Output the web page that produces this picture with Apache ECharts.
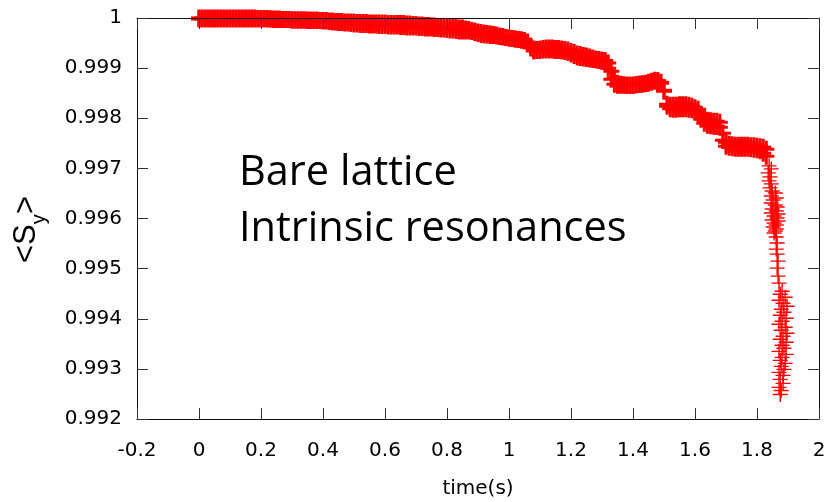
<!DOCTYPE html>
<html><head><meta charset="utf-8">
<script src="https://cdn.jsdelivr.net/npm/echarts@6/dist/echarts.min.js"></script>
<style>html,body{margin:0;padding:0;background:#fff}#c{width:830px;height:502px}</style>
</head><body><div id="c"></div>
<script>
// x tick labels / y tick labels
const xTickLabels = ['-0.2','0','0.2','0.4','0.6','0.8','1','1.2','1.4','1.6','1.8','2'];
const yTickLabels = ['0.992','0.993','0.994','0.995','0.996','0.997','0.998','0.999','1'];

// dense part of the record: sample times and the upper / lower spread of <Sy>
const bandTime = [
0,0.01,0.02,0.03,0.04,0.05,0.06,0.07,0.08,0.09,
0.10,0.11,0.12,0.13,0.14,0.15,0.16,0.17,0.18,0.19,
0.20,0.21,0.22,0.23,0.24,0.25,0.26,0.27,0.28,0.29,
0.30,0.31,0.32,0.33,0.34,0.35,0.36,0.37,0.38,0.39,
0.40,0.41,0.42,0.43,0.44,0.45,0.46,0.47,0.48,0.49,
0.50,0.51,0.52,0.53,0.54,0.55,0.56,0.57,0.58,0.59,
0.60,0.61,0.62,0.63,0.64,0.65,0.66,0.67,0.68,0.69,
0.70,0.71,0.72,0.73,0.74,0.75,0.76,0.77,0.78,0.79,
0.80,0.81,0.82,0.83,0.84,0.85,0.86,0.87,0.88,0.89,
0.90,0.91,0.92,0.93,0.94,0.95,0.96,0.97,0.98,0.99,
1.00,1.01,1.02,1.03,1.04,1.05,1.06,1.07,1.08,1.09,
1.10,1.11,1.12,1.13,1.14,1.15,1.16,1.17,1.18,1.19,
1.20,1.21,1.22,1.23,1.24,1.25,1.26,1.27,1.28,1.29,
1.30,1.31,1.32,1.33,1.34,1.35,1.36,1.37,1.38,1.39,
1.40,1.41,1.42,1.43,1.44,1.45,1.46,1.47,1.48,1.49,
1.50,1.51,1.52,1.53,1.54,1.55,1.56,1.57,1.58,1.59,
1.60,1.61,1.62,1.63,1.64,1.65,1.66,1.67,1.68,1.69,
1.70,1.71,1.72,1.73,1.74,1.75,1.76,1.77,1.78,1.79,
1.80,1.81,1.82,1.83];

const bandUpper = [
1,1,1,1,1,1,1,1,1,1,
1,1,1,1,1,1,1,1,1,0.99999,
0.99999,0.99999,0.99999,0.99998,0.99998,0.99998,0.99998,0.99997,0.99997,0.99997,
0.99996,0.99996,0.99996,0.99996,0.99996,0.99996,0.99996,0.99996,0.99996,0.99995,
0.99995,0.99995,0.99994,0.99994,0.99993,0.99993,0.99993,0.99992,0.99992,0.99992,
0.99992,0.99991,0.99991,0.99991,0.99991,0.99990,0.99990,0.99990,0.99990,0.99990,
0.99990,0.99989,0.99989,0.99989,0.99989,0.99989,0.99989,0.99988,0.99988,0.99987,
0.99987,0.99986,0.99986,0.99985,0.99985,0.99984,0.99984,0.99983,0.99982,0.99982,
0.99982,0.99981,0.99981,0.99981,0.99980,0.99980,0.99978,0.99977,0.99975,0.99974,
0.99972,0.99971,0.99970,0.99969,0.99968,0.99967,0.99966,0.99964,0.99963,0.99961,
0.99960,0.99959,0.99958,0.99957,0.99956,0.99955,0.99952,0.99944,0.99936,0.99937,
0.99938,0.99939,0.99940,0.99940,0.99940,0.99939,0.99939,0.99938,0.99937,0.99936,
0.99933,0.99931,0.99928,0.99927,0.99925,0.99924,0.99922,0.99920,0.99918,0.99917,
0.99916,0.99915,0.99910,0.99894,0.99880,0.99870,0.99868,0.99867,0.99866,0.99866,
0.99866,0.99867,0.99868,0.99869,0.99870,0.99872,0.99874,0.99876,0.99875,0.99870,
0.99856,0.99828,0.99826,0.99826,0.99826,0.99827,0.99827,0.99827,0.99826,0.99824,
0.99821,0.99818,0.99808,0.99800,0.99796,0.99795,0.99794,0.99794,0.99792,0.99770,
0.99752,0.99748,0.99747,0.99746,0.99746,0.99746,0.99746,0.99746,0.99745,0.99745,
0.99744,0.99743,0.99742,0.99738];

const bandLower = [
0.99998,0.99998,0.99998,0.99998,0.99998,0.99998,0.99998,0.99998,0.99998,0.99998,
0.99998,0.99998,0.99998,0.99998,0.99998,0.99998,0.99998,0.99998,0.99998,0.99998,
0.99998,0.99998,0.99998,0.99998,0.99997,0.99997,0.99997,0.99997,0.99997,0.99997,
0.99996,0.99996,0.99996,0.99996,0.99996,0.99995,0.99995,0.99995,0.99995,0.99995,
0.99994,0.99994,0.99993,0.99992,0.99992,0.99991,0.99991,0.99990,0.99990,0.99989,
0.99988,0.99988,0.99987,0.99987,0.99987,0.99986,0.99986,0.99986,0.99985,0.99985,
0.99985,0.99984,0.99984,0.99984,0.99984,0.99983,0.99983,0.99982,0.99982,0.99982,
0.99982,0.99981,0.99981,0.99980,0.99980,0.99980,0.99979,0.99979,0.99978,0.99978,
0.99977,0.99976,0.99976,0.99975,0.99974,0.99974,0.99974,0.99974,0.99973,0.99971,
0.99969,0.99967,0.99966,0.99966,0.99965,0.99965,0.99964,0.99963,0.99962,0.99961,
0.99960,0.99959,0.99958,0.99957,0.99956,0.99955,0.99951,0.99940,0.99934,0.99935,
0.99935,0.99936,0.99936,0.99936,0.99936,0.99935,0.99935,0.99934,0.99933,0.99931,
0.99928,0.99925,0.99922,0.99921,0.99920,0.99919,0.99918,0.99917,0.99916,0.99915,
0.99914,0.99913,0.99900,0.99878,0.99868,0.99866,0.99866,0.99866,0.99866,0.99866,
0.99866,0.99867,0.99868,0.99868,0.99869,0.99870,0.99872,0.99874,0.99875,0.99872,
0.99854,0.99824,0.99819,0.99818,0.99818,0.99819,0.99819,0.99819,0.99818,0.99817,
0.99814,0.99808,0.99798,0.99790,0.99786,0.99785,0.99784,0.99784,0.99782,0.99756,
0.99744,0.99742,0.99741,0.99740,0.99740,0.99740,0.99740,0.99740,0.99739,0.99738,
0.99737,0.99735,0.99730,0.99724];

// sparse tail of the record (final drop)
const tailTime = [
1.839,1.846,1.836,1.842,1.839,1.846,1.842,1.849,1.859,1.846,
1.862,1.852,1.846,1.859,1.865,1.849,1.862,1.846,1.868,1.855,
1.865,1.849,1.868,1.855,1.862,1.852,1.862,1.859,1.855,1.862,
1.865,1.862,1.865,1.868,1.865,1.868,1.871,1.881,1.875,1.891,
1.871,1.884,1.897,1.878,1.887,1.875,1.894,1.881,1.871,1.891,
1.878,1.897,1.884,1.875,1.894,1.881,1.887,1.871,1.894,1.881,
1.875,1.891,1.878,1.887,1.871,1.884,1.875,1.884,1.871,1.878,
1.875];
const tailValue = [
0.99705,0.99699,0.99691,0.99683,0.99675,0.99669,0.99661,0.99655,0.99651,0.99645,
0.99641,0.99637,0.99631,0.99627,0.99623,0.99619,0.99615,0.99611,0.99609,0.99605,
0.99601,0.99597,0.99595,0.99591,0.99587,0.99583,0.99579,0.99575,0.99571,0.99563,
0.99551,0.99539,0.99529,0.99515,0.99501,0.99485,0.99471,0.99455,0.99449,0.99443,
0.99437,0.99431,0.99425,0.99419,0.99413,0.99407,0.99401,0.99395,0.99389,0.99383,
0.99377,0.99371,0.99365,0.99359,0.99353,0.99347,0.99341,0.99335,0.99329,0.99323,
0.99317,0.99311,0.99305,0.99299,0.99293,0.99287,0.99279,0.99271,0.99263,0.99257,
0.99249];

const bandData = [];
for (let i = 0; i < bandTime.length; i++) {
  bandData.push([bandTime[i], bandUpper[i]]);
  bandData.push([bandTime[i], bandLower[i]]);
}
const tailData = tailTime.map((t, i) => [t, tailValue[i]]);

const plusThick = 'path://M0,7H16V10H0Z M6.5,0H9.5V17H6.5Z';
const plusThin = 'path://M0,6.8H15V8.2H0Z M6.8,0H8.2V15H6.8Z';

const xFmt = v => { const s = (Math.round(v * 10) / 10).toString(); return xTickLabels.indexOf(s) >= 0 ? s : ''; };
const yFmt = v => { const s = (Math.round(v * 1000) / 1000).toString(); return yTickLabels.indexOf(s) >= 0 ? s : ''; };

const axisLine = { show: true, onZero: false, lineStyle: { color: '#111', width: 1 } };
const tick = { show: true, inside: true, length: 11, lineStyle: { color: '#333', width: 1 } };
const lblFont = { fontFamily: 'DejaVu Sans', fontSize: 20, color: '#000' };

const chart = echarts.init(document.getElementById('c'), null, { renderer: 'canvas' });
chart.setOption({
  animation: false,
  backgroundColor: '#fff',
  grid: { left: 137, right: 11, top: 18, bottom: 83, containLabel: false, outerBoundsMode: 'none' },
  xAxis: [
    { type: 'value', min: -0.2, max: 2, interval: 0.2, position: 'bottom', z: 5,
      axisLine, axisTick: tick, splitLine: { show: false },
      axisLabel: Object.assign({ margin: 22, formatter: xFmt }, lblFont),
      name: 'time(s)', nameLocation: 'middle', nameGap: 60,
      nameTextStyle: { fontFamily: 'DejaVu Sans', fontSize: 20, color: '#000' } },
    { type: 'value', min: -0.2, max: 2, interval: 0.2, position: 'top', z: 5,
      axisLine, axisTick: tick, splitLine: { show: false }, axisLabel: { show: false } }
  ],
  yAxis: [
    { type: 'value', min: 0.992, max: 1, interval: 0.001, position: 'left', z: 5,
      axisLine, axisTick: tick, splitLine: { show: false },
      axisLabel: Object.assign({ margin: 15, formatter: yFmt }, lblFont) },
    { type: 'value', min: 0.992, max: 1, interval: 0.001, position: 'right', z: 5,
      axisLine, axisTick: tick, splitLine: { show: false }, axisLabel: { show: false } }
  ],
  series: [
    { type: 'scatter', xAxisIndex: 0, yAxisIndex: 0, data: bandData,
      symbol: plusThick, symbolSize: [16, 17], itemStyle: { color: '#ff0000', opacity: 1 },
      emphasis: { disabled: true }, silent: true, z: 2 },
    { type: 'scatter', xAxisIndex: 0, yAxisIndex: 0, data: tailData,
      symbol: plusThin, symbolSize: 15, itemStyle: { color: '#ff0000', opacity: 1 },
      emphasis: { disabled: true }, silent: true, z: 2 }
  ],
  graphic: [
    { type: 'text', x: 239, y: 145, z: 10,
      style: { text: 'Bare lattice\nIntrinsic resonances', fontFamily: 'Open Sans', fontSize: 41.5,
               lineHeight: 56, fill: '#000', align: 'left', verticalAlign: 'top' } },
    { type: 'group', x: 37, y: 231, rotation: Math.PI / 2, z: 10,
      children: [
        { type: 'text', x: -32, y: -11,
          style: { text: '<S', fontFamily: 'Liberation Sans', fontSize: 31, fill: '#000', align: 'left', verticalAlign: 'middle' } },
        { type: 'text', x: 6.8, y: 2,
          style: { text: 'y', fontFamily: 'Liberation Sans', fontSize: 20, fill: '#000', align: 'left', verticalAlign: 'middle' } },
        { type: 'text', x: 17, y: -11,
          style: { text: '>', fontFamily: 'Liberation Sans', fontSize: 31, fill: '#000', align: 'left', verticalAlign: 'middle' } }
      ] }
  ]
});
</script></body></html>
